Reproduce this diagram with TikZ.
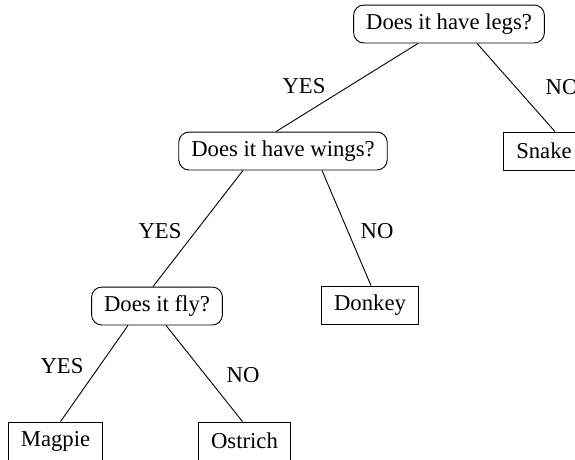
\documentclass[tikz,border=0pt]{standalone}
\usepackage{fontspec}
\setmainfont{Liberation Serif}
\usetikzlibrary{calc}

\begin{document}
\begin{tikzpicture}
  [x=0.4405pt,y=-0.4405pt,
   question/.style={draw,rounded corners=4.5pt,inner xsep=5.5pt,inner ysep=0pt,minimum height=16.7pt},
   answer/.style={draw,inner xsep=5.5pt,inner ysep=0pt,minimum height=16.7pt},
   lab/.style={inner sep=0pt}]
  \useasboundingbox (0,0) rectangle (575,459);
  \node[question] (legs) at (449,24) {Does it have legs?};
  \node[question] (wings) at (283,151) {Does it have wings?};
  \node[answer] (snake) at (544,151) {Snake};
  \node[question] (fly) at (157,306) {Does it fly?};
  \node[answer] (donkey) at (370,305) {Donkey};
  \node[answer] (magpie) at (55.5,441) {Magpie};
  \node[answer] (ostrich) at (244.5,441) {Ostrich};
  \node[lab] (yes1) at (304,86) {YES};
  \node[lab] (no1) at (562,87) {NO};
  \node[lab] (yes2) at (160,231) {YES};
  \node[lab] (no2) at (377,231) {NO};
  \node[lab] (yes3) at (62,366) {YES};
  \node[lab] (no3) at (243,375) {NO};
  \foreach \from/\a/\to/\b in {legs/-31/wings/-7,legs/28/snake/11,wings/-40/fly/-4,
    wings/39/donkey/1,fly/-29/magpie/5,fly/9/ostrich/-2}
    \draw ($(\from.south)+(\a,0)$) -- ($(\to.north)+(\b,0)$);
\end{tikzpicture}
\end{document}
